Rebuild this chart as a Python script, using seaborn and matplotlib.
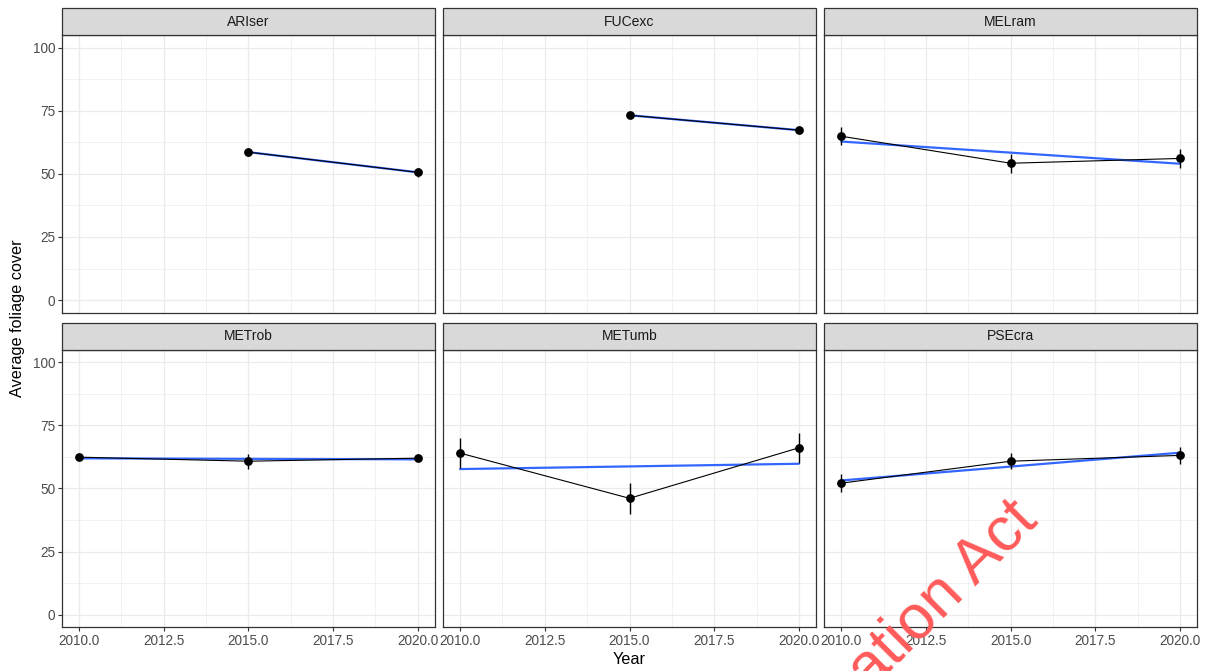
import numpy as np
import pandas as pd
import matplotlib
matplotlib.use("Agg")
import matplotlib.pyplot as plt
from matplotlib.patches import Rectangle
from matplotlib.ticker import MultipleLocator, FormatStrFormatter
import seaborn as sns

# Mean foliage cover per species and survey year, with error (± half-range)
species = ["ARIser", "FUCexc", "MELram", "METrob", "METumb", "PSEcra"]
rec_species = ["ARIser", "ARIser",
               "FUCexc", "FUCexc",
               "MELram", "MELram", "MELram",
               "METrob", "METrob", "METrob",
               "METumb", "METumb", "METumb",
               "PSEcra", "PSEcra", "PSEcra"]
rec_year = [2015, 2020,
            2015, 2020,
            2010, 2015, 2020,
            2010, 2015, 2020,
            2010, 2015, 2020,
            2010, 2015, 2020]
rec_cover = [58.6, 50.6,
             73.2, 67.3,
             64.9, 54.2, 56.1,
             62.4, 60.8, 62.0,
             64.0, 46.1, 66.1,
             52.1, 60.8, 63.1]
rec_err = [1.5, 1.8,
           1.2, 1.2,
           3.5, 3.8, 3.8,
           1.3, 3.0, 1.3,
           5.8, 6.2, 5.9,
           3.5, 3.2, 3.5]

df = pd.DataFrame({"species": rec_species, "Year": rec_year,
                   "cover": rec_cover, "err": rec_err})

sns.set_theme(style="white")
plt.rcParams["font.family"] = ["Liberation Sans", "DejaVu Sans"]

g = sns.FacetGrid(df, col="species", col_wrap=3, col_order=species,
                  sharex=True, sharey=True, height=3, aspect=1.3)
fig = g.figure
fig.set_size_inches(12.1, 6.71)
fig.set_dpi(100)
fig.subplots_adjust(left=62/1210, right=1197/1210, top=1-35/671,
                    bottom=1-627.3/671, wspace=0.0228, hspace=0.133)

grid_col = "#EBEBEB"
dark = "#333333"

for i, sp in enumerate(species):
    ax = g.axes_dict[sp]
    sub = df[df["species"] == sp]
    ax.set_xlim(2009.5, 2020.5)
    ax.set_ylim(-5, 105)
    ax.xaxis.set_major_locator(MultipleLocator(2.5))
    ax.xaxis.set_minor_locator(MultipleLocator(1.25))
    ax.yaxis.set_major_locator(MultipleLocator(25))
    ax.yaxis.set_minor_locator(MultipleLocator(12.5))
    ax.xaxis.set_major_formatter(FormatStrFormatter("%.1f"))
    ax.grid(True, which="major", color=grid_col, lw=0.9)
    ax.grid(True, which="minor", color=grid_col, lw=0.45)
    ax.set_axisbelow(True)

    sns.regplot(data=sub, x="Year", y="cover", ci=None, scatter=False,
                truncate=True, ax=ax,
                line_kws=dict(color="#3366FF", lw=1.6, zorder=3))
    sns.lineplot(data=sub, x="Year", y="cover", color="black", lw=0.8,
                 ax=ax, zorder=4)
    ax.errorbar(sub["Year"], sub["cover"], yerr=sub["err"], fmt="none",
                ecolor="black", elinewidth=1.0, capsize=0, zorder=5)
    sns.scatterplot(data=sub, x="Year", y="cover", color="black", s=40,
                    edgecolor="black", linewidth=0, ax=ax, zorder=6)

    for s in ax.spines.values():
        s.set_visible(True)
        s.set_color(dark)
        s.set_linewidth(0.9)

    row, col = divmod(i, 3)
    ax.tick_params(which="major", length=3, width=0.8, color=dark,
                   labelsize=9.8, labelcolor="#4D4D4D", pad=2)
    ax.tick_params(which="minor", length=0)
    ax.tick_params(axis="x", bottom=(row == 1), labelbottom=(row == 1))
    ax.tick_params(axis="y", left=(col == 0), labelleft=(col == 0))
    ax.set_xlabel("")
    ax.set_ylabel("")
    ax.set_title("")

    # strip header
    h = 27 / 278
    ax.add_patch(Rectangle((0, 1), 1, h, transform=ax.transAxes,
                           facecolor="#D9D9D9", edgecolor=dark, lw=0.9,
                           clip_on=False, zorder=10))
    ax.text(0.5, 1 + h / 2, sp, transform=ax.transAxes, ha="center",
            va="center", fontsize=10, color="#1A1A1A", zorder=11)

fig.text(18 / 1210, 1 - 318 / 671, "Average foliage cover", rotation=90,
         ha="center", va="center", fontsize=11.7, color="black")
fig.text(629.5 / 1210, 1 - 660 / 671, "Year", ha="center", va="center",
         fontsize=11.7, color="black")

fig.text(870 / 1210, 1 - 692 / 671, "ation Act", rotation=45,
         rotation_mode="anchor", ha="left", va="baseline", fontsize=45,
         color="#FF5A5A", zorder=20)

fig.savefig("out.png", dpi=100)
